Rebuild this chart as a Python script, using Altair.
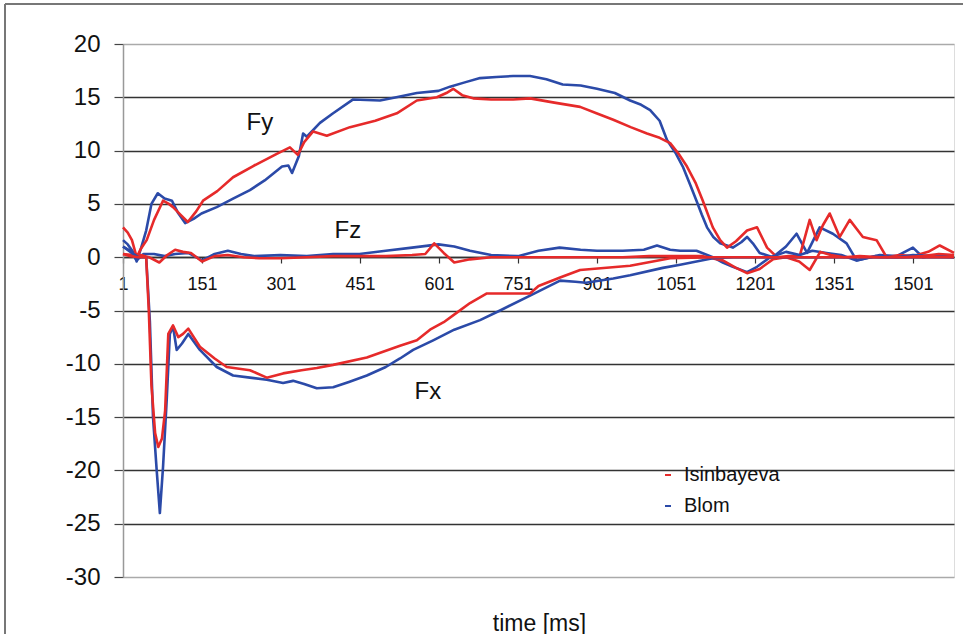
import altair as alt
import pandas as pd

FONT = "Liberation Sans"

# ---- data ----
athletes = ["Isinbayeva", "Blom"]
colors = ["#e62a2a", "#2b4aa8"]

blom_fy_t = [1, 10, 20, 27, 35, 45, 55, 67, 80, 94, 105, 119, 135, 150, 179, 210, 242, 270, 303, 315, 322, 335, 343, 350, 375, 400, 438, 489, 520, 559, 600, 622, 650, 679, 710, 742, 774, 805, 836, 870, 901, 935, 964, 985, 1002, 1020, 1034, 1050, 1064, 1078, 1090, 1100, 1110, 1122, 1135, 1159, 1175, 1186, 1197, 1210, 1235, 1260, 1280, 1300, 1324, 1349, 1375, 1394, 1420, 1438, 1470, 1501, 1520, 1550, 1579]
blom_fy_v = [1.6, 1.2, 0.5, -0.4, 0.8, 2.5, 5.0, 6.0, 5.5, 5.3, 4.2, 3.2, 3.6, 4.1, 4.7, 5.5, 6.3, 7.2, 8.5, 8.6, 7.9, 9.5, 11.6, 11.3, 12.6, 13.5, 14.8, 14.7, 15.0, 15.4, 15.6, 16.0, 16.4, 16.8, 16.9, 17.0, 17.0, 16.7, 16.2, 16.1, 15.8, 15.4, 14.7, 14.3, 13.8, 12.8, 11.0, 9.8, 8.5, 6.8, 5.3, 4.0, 2.8, 1.9, 1.3, 0.9, 1.4, 1.9, 1.3, 0.4, 0.0, 1.0, 2.2, 0.4, 2.8, 2.2, 1.3, -0.3, 0.0, 0.2, 0.1, 0.9, 0.0, 0.2, 0.0]

isin_fy_t = [1, 10, 18, 27, 35, 46, 60, 77, 88, 96, 110, 124, 140, 153, 180, 210, 250, 293, 318, 333, 345, 362, 388, 432, 480, 521, 559, 597, 615, 628, 645, 666, 700, 742, 774, 820, 869, 900, 932, 965, 996, 1020, 1040, 1056, 1072, 1088, 1102, 1121, 1135, 1148, 1165, 1186, 1205, 1224, 1243, 1265, 1286, 1305, 1318, 1330, 1343, 1362, 1381, 1406, 1432, 1451, 1475, 1501, 1530, 1552, 1579]
isin_fy_v = [2.8, 2.3, 1.6, 0.0, 0.8, 1.6, 3.5, 5.3, 5.0, 4.7, 4.0, 3.3, 4.3, 5.3, 6.2, 7.5, 8.6, 9.7, 10.3, 9.6, 10.8, 11.8, 11.4, 12.2, 12.8, 13.5, 14.7, 15.0, 15.4, 15.8, 15.2, 14.9, 14.8, 14.8, 14.9, 14.5, 14.1, 13.5, 12.9, 12.2, 11.6, 11.2, 10.7, 9.7, 8.5, 7.0, 5.3, 2.8, 1.6, 0.9, 1.5, 2.5, 2.8, 0.9, 0.0, 0.1, 0.1, 3.5, 1.6, 3.0, 4.1, 1.9, 3.5, 1.9, 1.6, 0.0, 0.2, 0.1, 0.5, 1.1, 0.4]

blom_fz_t = [1, 15, 27, 40, 60, 80, 100, 125, 151, 175, 200, 225, 250, 300, 350, 400, 450, 500, 550, 600, 630, 660, 700, 751, 790, 830, 870, 901, 950, 990, 1015, 1040, 1059, 1090, 1121, 1140, 1159, 1186, 1205, 1230, 1260, 1286, 1310, 1337, 1365, 1394, 1430, 1470, 1501, 1540, 1579]
blom_fz_v = [1.0, 0.6, -0.3, 0.3, 0.3, 0.1, 0.3, 0.4, -0.3, 0.3, 0.6, 0.3, 0.1, 0.2, 0.1, 0.3, 0.3, 0.6, 0.9, 1.2, 1.0, 0.6, 0.2, 0.1, 0.6, 0.9, 0.7, 0.6, 0.6, 0.7, 1.1, 0.7, 0.6, 0.6, 0.0, -0.5, -0.9, -1.4, -0.9, 0.0, 0.5, 0.2, 0.6, 0.4, 0.2, -0.3, 0.1, 0.0, 0.2, 0.1, 0.0]

isin_fz_t = [1, 20, 35, 50, 70, 85, 100, 115, 130, 151, 175, 200, 230, 260, 300, 350, 400, 450, 500, 550, 575, 592, 610, 630, 660, 700, 751, 800, 850, 900, 950, 1000, 1050, 1100, 1140, 1165, 1186, 1210, 1235, 1260, 1285, 1305, 1325, 1345, 1370, 1400, 1440, 1480, 1520, 1550, 1579]
isin_fz_v = [0.3, 0.2, 0.2, 0.0, -0.5, 0.2, 0.7, 0.5, 0.4, -0.4, 0.1, 0.2, 0.0, -0.1, -0.1, 0.0, 0.1, 0.1, 0.1, 0.2, 0.3, 1.3, 0.4, -0.5, -0.2, 0.0, 0.0, 0.0, 0.0, 0.0, 0.0, 0.1, 0.1, 0.1, -0.3, -1.0, -1.5, -1.1, -0.2, 0.0, -0.4, -1.2, 0.5, 0.2, 0.0, 0.1, 0.0, 0.0, 0.1, 0.3, 0.2]

blom_fx_t = [1, 15, 30, 45, 52, 58, 65, 71, 77, 84, 90, 96, 103, 113, 125, 147, 179, 210, 242, 274, 305, 324, 345, 369, 400, 430, 464, 500, 527, 552, 590, 630, 679, 717, 774, 831, 860, 880, 932, 964, 1026, 1059, 1121, 1160, 1200, 1250, 1300, 1400, 1500, 1579]
blom_fx_v = [1.0, 0.5, 0.0, 0.0, -6.0, -15.0, -20.0, -24.0, -19.7, -13.4, -7.2, -6.5, -8.7, -8.1, -7.2, -8.7, -10.3, -11.1, -11.3, -11.5, -11.8, -11.6, -11.9, -12.3, -12.2, -11.7, -11.1, -10.3, -9.5, -8.7, -7.8, -6.8, -5.9, -5.0, -3.6, -2.2, -2.3, -2.4, -2.0, -1.7, -1.0, -0.7, -0.1, 0.0, 0.0, 0.0, 0.0, 0.0, 0.0, 0.0]

isin_fx_t = [1, 15, 30, 45, 50, 55, 62, 68, 75, 81, 87, 96, 106, 115, 125, 147, 175, 198, 242, 274, 305, 340, 369, 400, 464, 527, 559, 584, 610, 635, 660, 692, 740, 774, 790, 831, 869, 964, 1040, 1121, 1200, 1300, 1400, 1500, 1579]
isin_fx_v = [0.3, 0.1, 0.0, 0.0, -5.0, -12.0, -16.5, -17.8, -17.0, -14.4, -7.2, -6.4, -7.5, -7.2, -6.7, -8.4, -9.5, -10.3, -10.6, -11.3, -10.9, -10.6, -10.4, -10.1, -9.4, -8.3, -7.8, -6.8, -6.1, -5.2, -4.3, -3.4, -3.4, -3.4, -2.7, -1.9, -1.2, -0.8, -0.1, 0.0, 0.0, 0.0, 0.0, 0.0, 0.0]

x_tick_values = [1, 151, 301, 451, 601, 751, 901, 1051, 1201, 1351, 1501]
y_tick_values = [-30, -25, -20, -15, -10, -5, 0, 5, 10, 15, 20]

label_names = ["Fy", "Fz", "Fx"]
label_t = [261, 428, 580]
label_v = [12.6, 2.5, -12.6]

# ---- build table ----
series = [
    ("Blom", "Fy", blom_fy_t, blom_fy_v),
    ("Isinbayeva", "Fy", isin_fy_t, isin_fy_v),
    ("Blom", "Fz", blom_fz_t, blom_fz_v),
    ("Isinbayeva", "Fz", isin_fz_t, isin_fz_v),
    ("Blom", "Fx", blom_fx_t, blom_fx_v),
    ("Isinbayeva", "Fx", isin_fx_t, isin_fx_v),
]
rows = []
for ath, comp, ts, vs in series:
    for t, v in zip(ts, vs):
        rows.append({"athlete": ath, "comp": comp, "key": ath + comp, "t": t, "v": v})
df = pd.DataFrame(rows)
labels_df = pd.DataFrame({"name": label_names, "t": label_t, "v": label_v})

x_scale = alt.Scale(domain=[1, 1579], nice=False, zero=False)
y_scale = alt.Scale(domain=[-30, 20], nice=False, zero=False)

x_axis = alt.Axis(
    values=x_tick_values, offset=-320, grid=False,
    labelExpr="'' + datum.value",
    domainColor="#333333", domainWidth=1.5,
    tickColor="#333333", tickSize=6, tickWidth=1.2,
    labelFont=FONT, labelFontSize=18, labelColor="#111111", labelPadding=12,
    labelFlush=False, labelOverlap=False,
    title="time [ms]", titleFont=FONT, titleFontSize=23, titleFontWeight="normal",
    titleColor="#111111", titleX=416, titleY=373, titleAlign="center",
    titleBaseline="alphabetic",
)
y_axis = alt.Axis(
    values=y_tick_values, title=None,
    labelExpr="'' + datum.value",
    domainColor="#999999", domainWidth=1.5,
    tickColor="#444444", tickSize=9, tickWidth=1.2,
    labelFont=FONT, labelFontSize=24, labelColor="#111111", labelPadding=14,
    labelFlush=False, labelOverlap=False,
    grid=True, gridWidth=1.6,
    gridColor={"condition": {"test": "datum.value == 20 || datum.value == -30", "value": "#aaaaaa"}, "value": "#333333"},
)

lines = alt.Chart(df).mark_line(strokeWidth=2.6, strokeJoin="round").encode(
    x=alt.X("t:Q", scale=x_scale, axis=x_axis),
    y=alt.Y("v:Q", scale=y_scale, axis=y_axis),
    color=alt.Color(
        "athlete:N",
        scale=alt.Scale(domain=athletes, range=colors),
        sort=athletes,
        legend=alt.Legend(
            orient="none", legendX=535, legendY=421, title=None,
            symbolType="stroke", symbolSize=36, symbolStrokeWidth=2,
            labelFont=FONT, labelFontSize=20, labelColor="#111111",
            rowPadding=11, labelOffset=6,
        ),
    ),
    detail="key:N",
    order="t:Q",
)

texts = alt.Chart(labels_df).mark_text(
    font=FONT, fontSize=24, color="#111111", align="center", baseline="middle"
).encode(x=alt.X("t:Q", scale=x_scale), y=alt.Y("v:Q", scale=y_scale), text="name:N")

one = pd.DataFrame({"a": [0]})
frame_left = alt.Chart(one).mark_rule(color="#777777", strokeWidth=2, clip=False).encode(
    x=alt.value(-118), y=alt.value(-40), y2=alt.value(592)
)
frame_top = alt.Chart(one).mark_rule(color="#777777", strokeWidth=2, clip=False).encode(
    x=alt.value(-118), x2=alt.value(842), y=alt.value(-40)
)

chart = alt.layer(frame_left, frame_top, lines, texts).properties(
    width=831, height=533,
    autosize=alt.AutoSizeParams(type="none"),
    padding={"left": 123, "top": 44, "right": 9, "bottom": 57},
).configure_view(stroke="#999999", strokeWidth=1.5).configure(background="white")

chart.save("out.html", embed_options={"renderer": "svg", "actions": False})
